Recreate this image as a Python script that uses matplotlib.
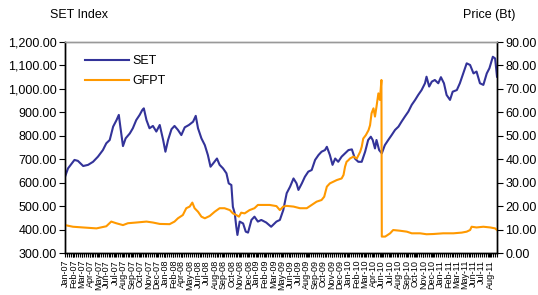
import matplotlib
matplotlib.use("Agg")
import matplotlib.pyplot as plt
from matplotlib.ticker import FuncFormatter, FixedLocator, MultipleLocator

plt.rcParams['font.family'] = ['Liberation Sans', 'DejaVu Sans']

# x positions are trading-day indices (category axis)
set_days = [0, 8, 25, 34, 48, 61, 74, 87, 100, 109, 118, 127, 136, 142, 146, 153, 160, 171,
            179, 188, 197, 204, 208, 215, 223, 232, 241, 250, 259, 265, 272, 281, 289, 298,
            307, 316, 327, 338, 345, 351, 360, 369, 377, 384, 391, 401, 408, 417, 426, 432,
            439, 443, 448, 452, 455, 461, 470, 477, 483, 492, 500, 509, 518, 531, 544, 558,
            567, 576, 585, 594, 603, 611, 616, 625, 633, 642, 651, 660, 669, 677, 686, 691,
            699, 706, 713, 721, 730, 739, 748, 757, 765, 774, 783, 792, 800, 807, 812, 818,
            822, 829, 836, 844, 853, 862, 871, 880, 888, 897, 906, 915, 924, 932, 941, 950,
            954, 961, 968, 976, 985, 992, 1000, 1007, 1016, 1023, 1034, 1042, 1051, 1060,
            1069, 1078, 1086, 1095, 1104, 1113, 1120, 1129, 1135, 1140]
set_values = [625, 661, 697, 693, 671, 676, 689, 711, 739, 768, 782, 839, 867, 889, 839, 756,
              789, 810, 832, 867, 889, 910, 917, 867, 832, 842, 818, 846, 782, 732, 782, 828,
              842, 825, 803, 836, 846, 860, 885, 832, 789, 760, 718, 668, 682, 703, 676, 661,
              640, 597, 590, 497, 469, 412, 377, 434, 426, 391, 387, 441, 455, 434, 441, 430,
              412, 434, 441, 483, 555, 583, 618, 597, 569, 597, 625, 647, 654, 697, 718, 732,
              739, 753, 718, 676, 703, 689, 711, 725, 739, 742, 703, 689, 689, 732, 782, 796,
              782, 746, 782, 739, 725, 760, 782, 803, 825, 839, 860, 882, 903, 932, 953, 974,
              995, 1024, 1052, 1010, 1031, 1038, 1024, 1050, 1024, 974, 953, 988, 995, 1024,
              1066, 1109, 1102, 1066, 1074, 1024, 1017, 1066, 1088, 1137, 1130, 1052]

gfpt_days = [0, 21, 47, 83, 109, 122, 135, 153, 166, 188, 215, 232, 250, 276, 289, 298, 311,
             320, 329, 336, 342, 351, 360, 369, 382, 395, 408, 421, 435, 443, 452, 459, 465,
             474, 487, 500, 509, 522, 540, 558, 567, 576, 585, 603, 620, 638, 651, 664, 677,
             684, 691, 699, 708, 717, 730, 735, 739, 743, 748, 752, 761, 770, 779, 783, 787,
             794, 801, 805, 809, 814, 818, 822, 827, 831, 835, 836, 845, 858, 866, 884, 902,
             915, 937, 954, 972, 998, 1025, 1047, 1060, 1069, 1073, 1086, 1104, 1122, 1135, 1140]
gfpt_values = [11.9, 11.2, 10.9, 10.5, 11.4, 13.4, 12.7, 11.9, 12.7, 13.0, 13.4, 13.0, 12.4,
               12.3, 13.4, 14.8, 16.2, 19.1, 19.8, 21.5, 19.1, 17.6, 15.5, 14.8, 15.8, 17.6,
               19.1, 19.1, 18.3, 16.9, 16.2, 15.5, 17.2, 16.9, 18.3, 19.1, 20.5, 20.5, 20.5,
               20.0, 18.3, 19.8, 20.1, 19.8, 19.1, 19.1, 20.5, 21.9, 22.6, 24.0, 28.3, 29.7,
               30.4, 31.1, 31.8, 33.3, 36.8, 38.9, 39.6, 40.3, 41.1, 40.3, 43.2, 45.3, 48.8,
               50.3, 52.4, 54.5, 59.6, 61.7, 58.2, 62.4, 68.1, 65.3, 73.8, 7.0, 7.0, 8.4, 9.8,
               9.5, 9.1, 8.4, 8.4, 8.0, 8.1, 8.4, 8.4, 8.7, 9.1, 9.8, 11.2, 10.9, 11.2, 10.9,
               10.5, 9.8]

month_labels = ["Jan-07", "Feb-07", "Mar-07", "Apr-07", "May-07", "Jun-07", "Jul-07", "Aug-07",
                "Sep-07", "Oct-07", "Nov-07", "Dec-07", "Jan-08", "Feb-08", "Apr-08", "May-08",
                "Jun-08", "Jul-08", "Aug-08", "Sep-08", "Oct-08", "Nov-08", "Dec-08", "Jan-09",
                "Feb-09", "Mar-09", "May-09", "Jun-09", "Jul-09", "Aug-09", "Sep-09", "Oct-09",
                "Nov-09", "Dec-09", "Jan-10", "Feb-10", "Mar-10", "Apr-10", "Jun-10", "Jul-10",
                "Aug-10", "Sep-10", "Oct-10", "Nov-10", "Dec-10", "Jan-11", "Feb-11", "Mar-11",
                "May-11", "Jun-11", "Jul-11", "Aug-11"]
label_step = 22

fig = plt.figure(figsize=(5.38, 2.95), dpi=100)
ax = fig.add_axes([65/538, 1-253/295, 432/538, 211/295])
ax2 = ax.twinx()

l1, = ax.plot(set_days, set_values, color='#333399', lw=1.5, label='SET')
l2, = ax2.plot(gfpt_days, gfpt_values, color='#FF9900', lw=1.5, label='GFPT')

ax.set_xlim(0, 1140)
ax.set_ylim(300, 1200)
ax2.set_ylim(0, 90)
ax.set_yticks(range(300, 1201, 100))
ax2.set_yticks(range(0, 91, 10))
ax.yaxis.set_major_formatter(FuncFormatter(lambda v, p: f"{v:,.2f}"))
ax2.yaxis.set_major_formatter(FuncFormatter(lambda v, p: f"{v:.2f}"))

ticks = [i*label_step for i in range(len(month_labels))]
ax.xaxis.set_major_locator(FixedLocator(ticks))
ax.set_xticklabels(month_labels, rotation=90, fontsize=6.5)
ax.xaxis.set_minor_locator(MultipleLocator(5))
ax.tick_params(axis='x', which='both', direction='out', length=3, width=0.8, pad=2)
ax.tick_params(axis='y', direction='out', length=4, width=0.8, labelsize=9, pad=2)
ax2.tick_params(axis='y', direction='out', length=4, width=0.8, labelsize=9, pad=2)

for a in (ax, ax2):
    a.spines['top'].set_color('#999999')
    a.spines['top'].set_linewidth(1.0)
    for s in ('left', 'right', 'bottom'):
        a.spines[s].set_linewidth(1.0)
        a.spines[s].set_color('black')

ax.legend([l1, l2], ['SET', 'GFPT'], loc='upper left', bbox_to_anchor=(0.02, 0.99),
          frameon=False, fontsize=9, handlelength=3.5, labelspacing=0.65, handletextpad=0.3)

fig.text(50/538, 1-15/295, "SET Index", fontsize=9, va='center', ha='left')
fig.text(515/538, 1-15/295, "Price (Bt)", fontsize=9, va='center', ha='right')

fig.savefig("out.png", dpi=100)
